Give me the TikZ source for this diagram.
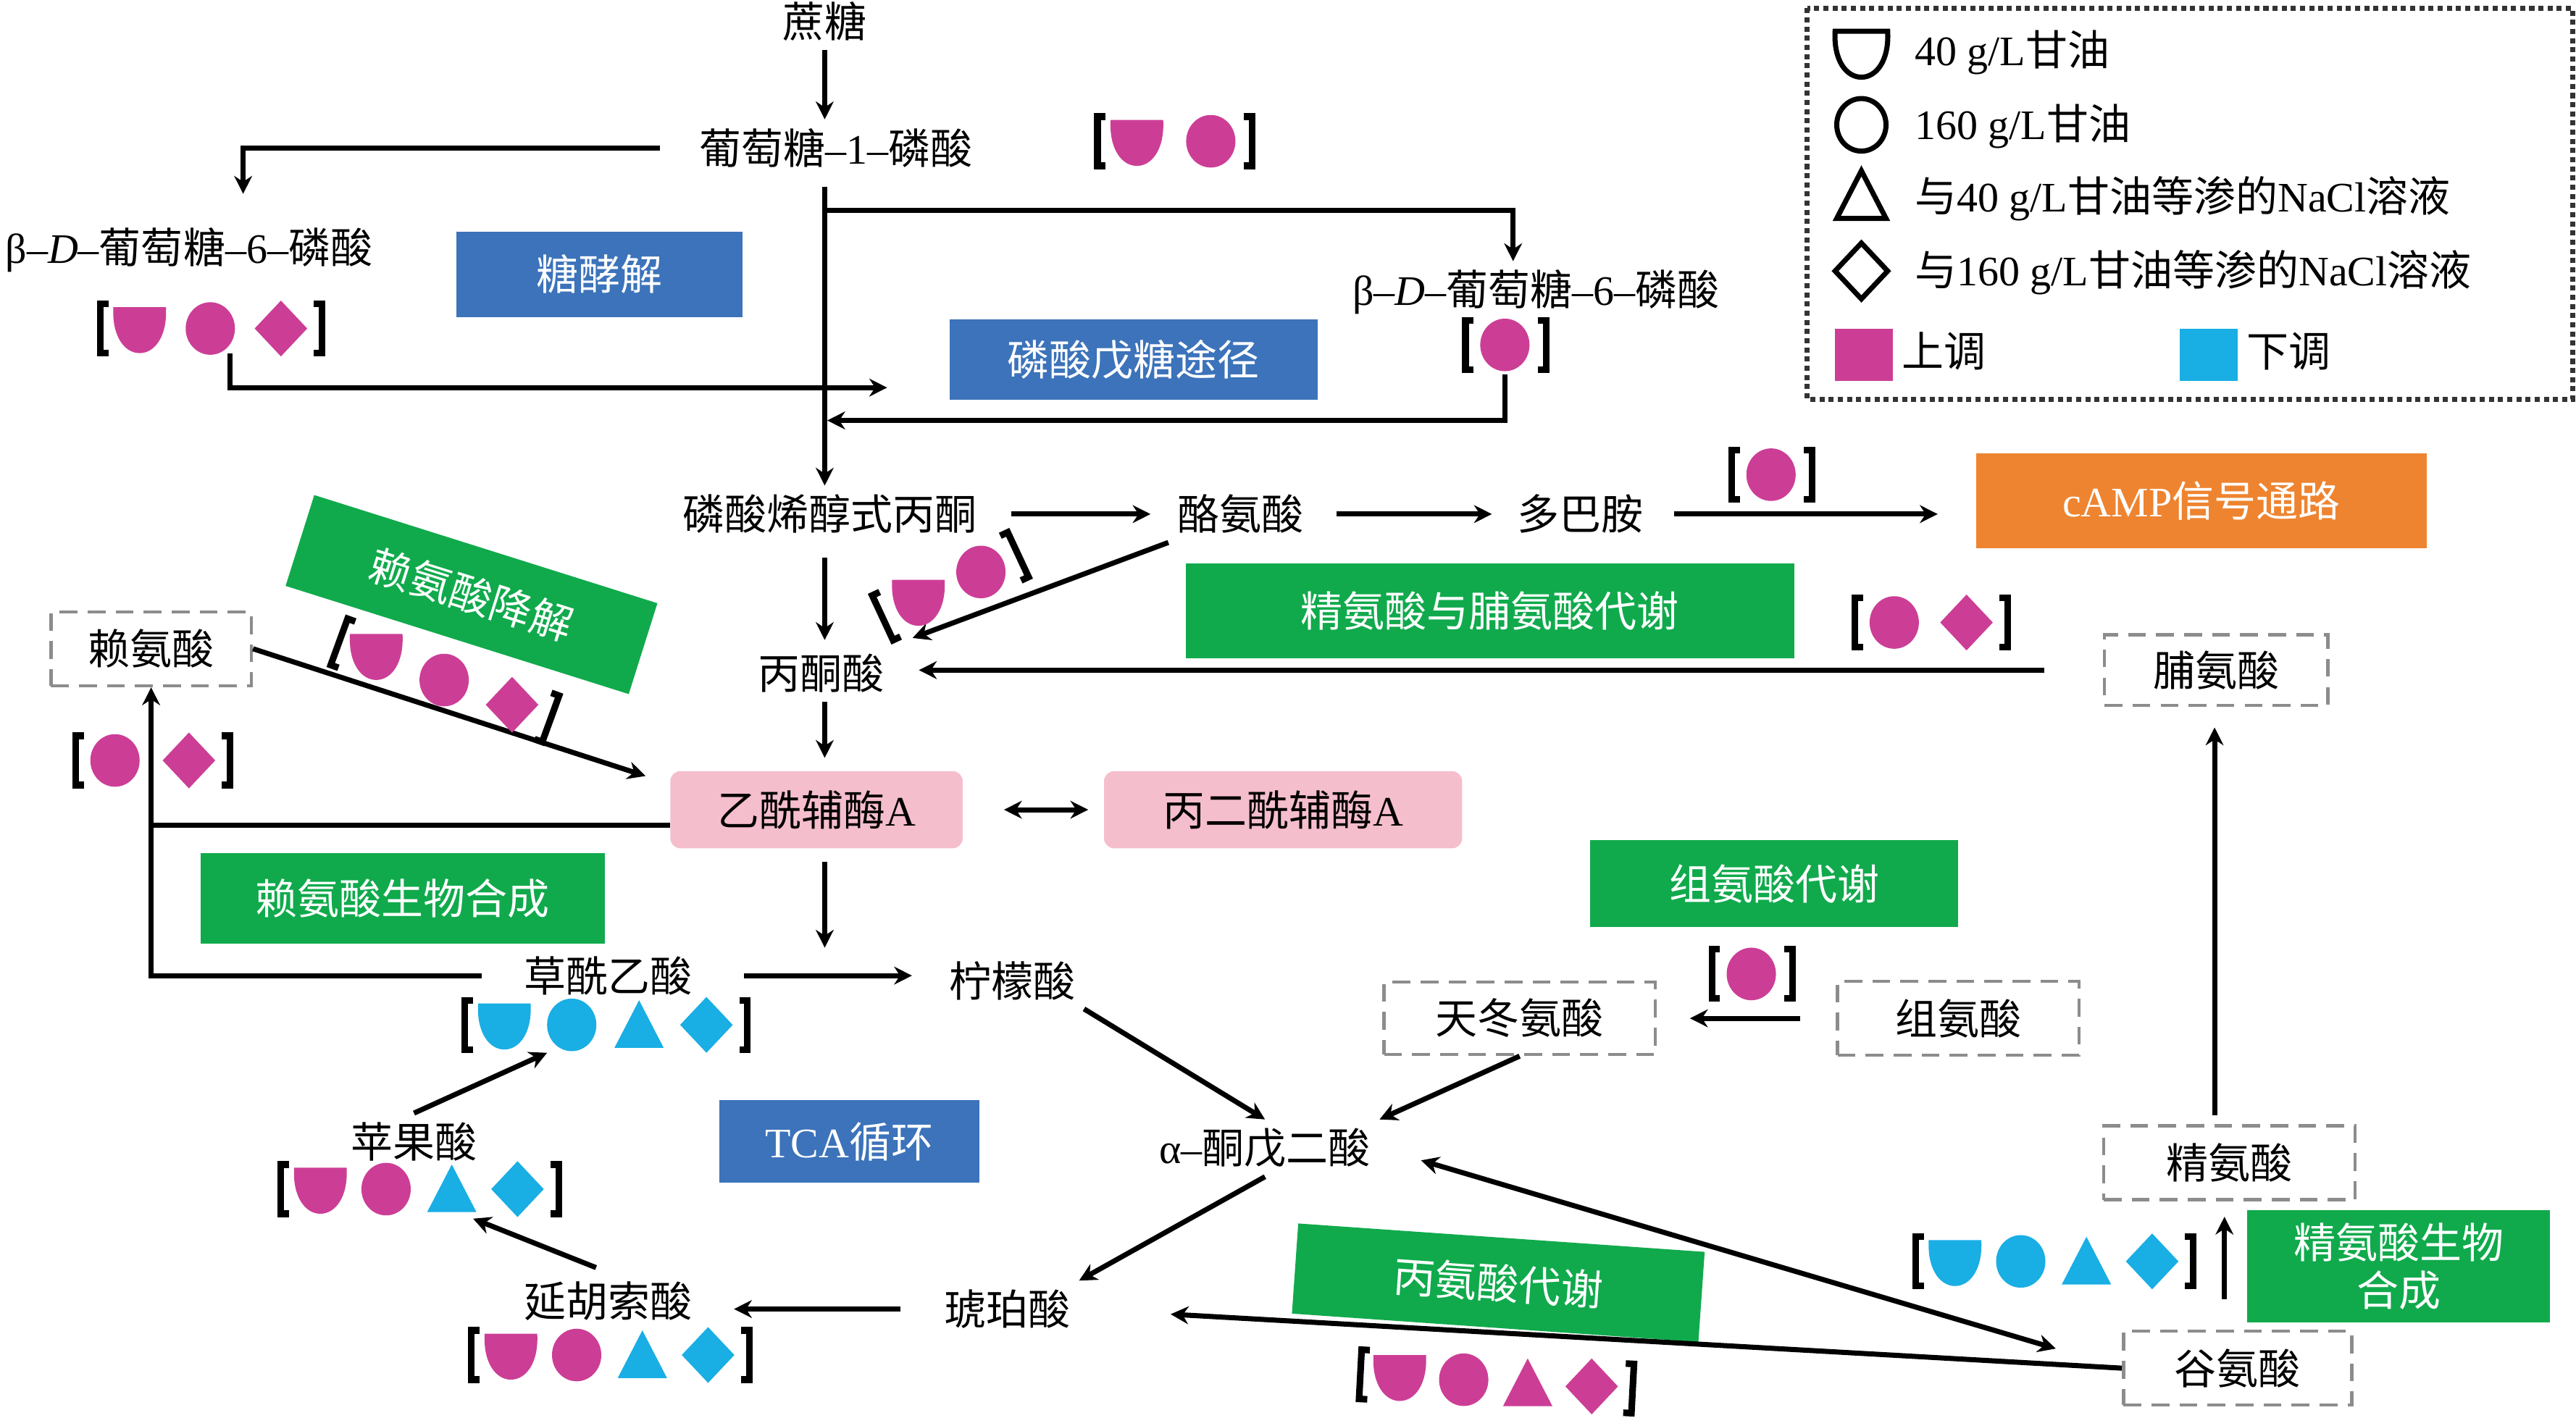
\documentclass[tikz,border=0pt]{standalone}
\usepackage{fontspec}
\setmainfont{Noto Sans CJK SC}
\newfontfamily\serifl{Liberation Serif}
\usetikzlibrary{arrows.meta}

\definecolor{mag}{RGB}{204,62,150}
\definecolor{cy}{RGB}{25,174,228}
\definecolor{boxblue}{RGB}{60,115,186}
\definecolor{boxgreen}{RGB}{16,170,76}
\definecolor{boxorange}{RGB}{238,132,48}
\definecolor{boxpink}{RGB}{245,190,205}

\newcommand\fs{\fontsize{16.5}{19}\selectfont}

\tikzset{
  shp/.style={fill},
  brk/.style={line width=2.6pt},
  hc/.pic={\path[shp] (-16,-13) -- (16,-13) .. controls (17,5) and (9,15) .. (0,15) .. controls (-9,15) and (-17,5) .. (-16,-13) -- cycle;},
  ci/.pic={\path[shp] (0,0) ellipse [x radius=15, y radius=16];},
  tr/.pic={\path[shp] (0,-15) -- (15,14) -- (-15,14) -- cycle;},
  di/.pic={\path[shp] (0,-17) -- (16,0) -- (0,17) -- (-16,0) -- cycle;}
}

% marks between brackets: [spacing]{first mark}{angle}{shape/colour list}
\newcommand\markgrp[4][41]{%
  \begin{scope}[shift={#2},rotate=#3]
    \foreach \sh/\col [count=\n] in {#4} {
      \edef\tmp{\noexpand\pic[color=\col] at ({(\n-1)*#1},0) {\sh};}\tmp
      \xdef\lastn{\n}
    }
    \draw[brk] (-19,-15) -- (-24,-15) -- (-24,15) -- (-19,15);
    \draw[brk] ({(\lastn-1)*#1+20},-15) -- ({(\lastn-1)*#1+25},-15) -- ({(\lastn-1)*#1+25},15) -- ({(\lastn-1)*#1+20},15);
  \end{scope}}

\begin{document}
\begin{tikzpicture}[x=0.02268cm, y=-0.02268cm, font=\fs,
  arr/.style={-{Stealth[length=7pt,width=7pt]}, line width=2pt},
  dbl/.style={{Stealth[length=7pt,width=7pt]}-{Stealth[length=7pt,width=7pt]}, line width=2pt},
  ln/.style={line width=2pt},
  sz/.style 2 args={minimum width=#1*0.02268cm, minimum height=#2*0.02268cm},
  bbox/.style={fill=boxblue, text=white},
  gbox/.style={fill=boxgreen, text=white},
  obox/.style={fill=boxorange, text=white},
  pbox/.style={fill=boxpink, rounded corners=4pt},
  dbox/.style={draw=black!45, dash pattern=on 7pt off 4pt, line width=1.3pt},
  lgdbox/.style={draw=black!80, dash pattern=on 2pt off 1.6pt, line width=2pt}]
\useasboundingbox (0,0) rectangle (1568,863);

% sugar part
\node (sucr) at (502,13) {蔗糖};
\node (g1p) at (509,90) {葡萄糖{\serifl –1–}磷酸};
\node (g6pl) at (115,152) {{\serifl β–\textit{D}–}葡萄糖{\serifl –6–}磷酸};
\node (g6pr) at (935,178) {{\serifl β–\textit{D}–}葡萄糖{\serifl –6–}磷酸};
\node[bbox, sz={174}{52}] (glyco) at (365,167) {糖酵解};
\node[bbox, sz={224}{49}] (ppp) at (690,219) {磷酸戊糖途径};
\node (pep) at (505,313) {磷酸烯醇式丙酮};
\node (tyr) at (755,313) {酪氨酸};
\node (dop) at (962,313) {多巴胺};
\node[obox, sz={274}{58}] (camp) at (1340,305) {{\serifl cAMP}信号通路};
\node[gbox, sz={370}{58}] (argpro) at (907,372) {精氨酸与脯氨酸代谢};
\node[dbox, sz={136}{43}] (pro) at (1349,408) {脯氨酸};
\node (pyr) at (500,410) {丙酮酸};

% lysine, acetyl-CoA
\node[dbox, sz={122}{45}] (lys) at (92,395) {赖氨酸};
\node[gbox, sz={219}{58}, rotate=-17.5] (lysdeg) at (287,362) {赖氨酸降解};
\node[pbox, sz={178}{47}] (acoa) at (497,493) {乙酰辅酶{\serifl A}};
\node[pbox, sz={218}{47}] (mcoa) at (781,493) {丙二酰辅酶{\serifl A}};
\node[gbox, sz={246}{55}] (lysbio) at (245,547) {赖氨酸生物合成};

% TCA cycle
\node (oaa) at (370,594) {草酰乙酸};
\node (cit) at (616,597) {柠檬酸};
\node (akg) at (770,699) {{\serifl α–}酮戊二酸};
\node (succ) at (613,797) {琥珀酸};
\node (fum) at (370,792) {延胡索酸};
\node (mal) at (252,695) {苹果酸};
\node[bbox, sz={158}{50}] (tca) at (517,695) {{\serifl TCA}循环};

% amino acids
\node[dbox, sz={165}{44}] (asp) at (925,620) {天冬氨酸};
\node[dbox, sz={147}{45}] (his) at (1192,620) {组氨酸};
\node[gbox, sz={224}{53}] (hismet) at (1080,538) {组氨酸代谢};
\node[gbox, sz={248}{55}, rotate=-4] (alamet) at (912,781) {丙氨酸代谢};
\node[dbox, sz={139}{45}] (glu) at (1362,833) {谷氨酸};
\node[dbox, sz={153}{45}] (arg) at (1357,708) {精氨酸};
\node[gbox, sz={184}{68}, align=center] (argbio) at (1460,771) {精氨酸生物\\合成};

% helper points
\coordinate (ax) at (502,0);
\coordinate (lb) at (148,118);
\coordinate (rb) at (921,128);
\coordinate (rg) at (916,228);
\coordinate (rl) at (502,256);
\coordinate (lg) at (140,215);
\coordinate (le) at (540,236);
\coordinate (tj) at (502,577);
\coordinate (malg) at (288,742);
\coordinate (oaag) at (333,641);
\coordinate (ga) at (1354,0);
\coordinate (ap) at (1348,0);

% connectors
\draw[arr] (sucr) -- (sucr |- g1p.north);
\draw[arr, shorten <=12pt] (g1p.west) -| (lb);
\draw[arr, shorten <=4pt] (g1p.south -| ax) -- (pep.north -| ax);
\draw[arr] (ax |- rb) -| (rb |- g6pr.north);
\draw[arr, shorten >=1pt] (rg) |- (rl);
\draw[arr] (lg) |- (le);
\draw[arr, shorten <=10pt, shorten >=7pt] (pep) -- (tyr);
\draw[arr, shorten <=9.5pt, shorten >=6.5pt] (tyr) -- (dop);
\draw[arr, shorten <=8.5pt, shorten >=15pt] (dop.east) -- (dop.east -| camp.west);
\draw[arr, shorten <=6pt, shorten >=2pt] (pep.south -| ax) -- (pyr.north -| ax);
\draw[arr, shorten >=8pt] (tyr.south west) -- (pyr.north east);
\draw[arr, shorten <=23pt, shorten >=10pt] (pro.west) -- (pro.west -| pyr.east);
\draw[arr, shorten >=5pt] (pyr.south -| ax) -- (acoa.north -| ax);
\draw[arr, shorten >=10pt] (lys.east) -- (acoa.170);
\draw[ln] (acoa.186) -- (acoa.186 -| lys);
\draw[arr, shorten <=13pt] (oaa.west) -| (lys.south);
\draw[dbl, shorten <=16pt, shorten >=6pt] (acoa.east) -- (mcoa.west);
\draw[arr, shorten <=5pt] (acoa.south -| ax) -- (tj);
\draw[arr, shorten <=17pt, shorten >=11pt] (oaa.east) -- (oaa.east -| cit.west);
\draw[arr] (cit.south east) -- (akg.north);
\draw[arr] (asp.south) -- (akg.north east);
\draw[arr, shorten <=14pt, shorten >=13pt] (his.west) -- (asp.east);
\draw[arr] (akg.south) -- (succ.north east);
\draw[arr, shorten <=13.5pt, shorten >=13pt] (succ.west) -- (succ.west -| fum.east);
\draw[arr, shorten <=5pt] (fum.north) -- (malg);
\draw[arr] (mal.north) -- (oaag);
\draw[arr, shorten >=36pt] (glu.west) -- (succ.east);
\draw[dbl, shorten <=17pt, shorten >=27pt] (akg.east) -- (glu.west);
\draw[arr, shorten <=12pt, shorten >=6pt] (ga |- glu.north) -- (ga |- arg.south);
\draw[arr, shorten <=3.5pt, shorten >=8pt] (ap |- arg.north) -- (ap |- pro.south);

% up / down marks
\markgrp[45]{(692,86)}{0}{hc/mag,ci/mag}
\markgrp[43]{(85,200)}{0}{hc/mag,ci/mag,di/mag}
\markgrp{(916,210)}{0}{ci/mag}
\markgrp[44]{(229,399)}{-20}{hc/mag,ci/mag,di/mag}
\markgrp[42]{(559,366)}{25}{hc/mag,ci/mag}
\markgrp{(1078,289)}{0}{ci/mag}
\markgrp[44]{(1153,379)}{0}{ci/mag,di/mag}
\markgrp[45]{(70,463)}{0}{ci/mag,di/mag}
\markgrp{(1066,593)}{0}{ci/mag}
\markgrp{(307,624)}{0}{hc/cy,ci/cy,tr/cy,di/cy}
\markgrp[40]{(195,724)}{0}{hc/mag,ci/mag,tr/cy,di/cy}
\markgrp[40]{(311,825)}{0}{hc/mag,ci/mag,tr/cy,di/cy}
\markgrp[39]{(852,838)}{-3}{hc/mag,ci/mag,tr/mag,di/mag}
\markgrp[40]{(1190,768)}{0}{hc/cy,ci/cy,tr/cy,di/cy}

% legend
\draw[lgdbox] (1100,5) rectangle (1566,243);
\pic[shp/.style={draw,line width=2pt}] at (1133,32) {hc};
\pic[shp/.style={draw,line width=2pt}] at (1133,76) {ci};
\pic[shp/.style={draw,line width=2pt}] at (1133,119) {tr};
\pic[shp/.style={draw,line width=2pt}] at (1133,165) {di};
\node[anchor=west] (l1) at (1160,32) {{\serifl 40 g/L}甘油};
\node[anchor=west] (l2) at (1160,77) {{\serifl 160 g/L}甘油};
\node[anchor=west] (l3) at (1160,121) {与{\serifl 40 g/L}甘油等渗的{\serifl NaCl}溶液};
\node[anchor=west] (l4) at (1160,166) {与{\serifl 160 g/L}甘油等渗的{\serifl NaCl}溶液};
\fill[mag] (1117,200) rectangle (1152,232);
\node[anchor=west] (l5) at (1152,214) {上调};
\fill[cy] (1327,200) rectangle (1362,232);
\node[anchor=west] (l6) at (1362,214) {下调};
\end{tikzpicture}
\end{document}
